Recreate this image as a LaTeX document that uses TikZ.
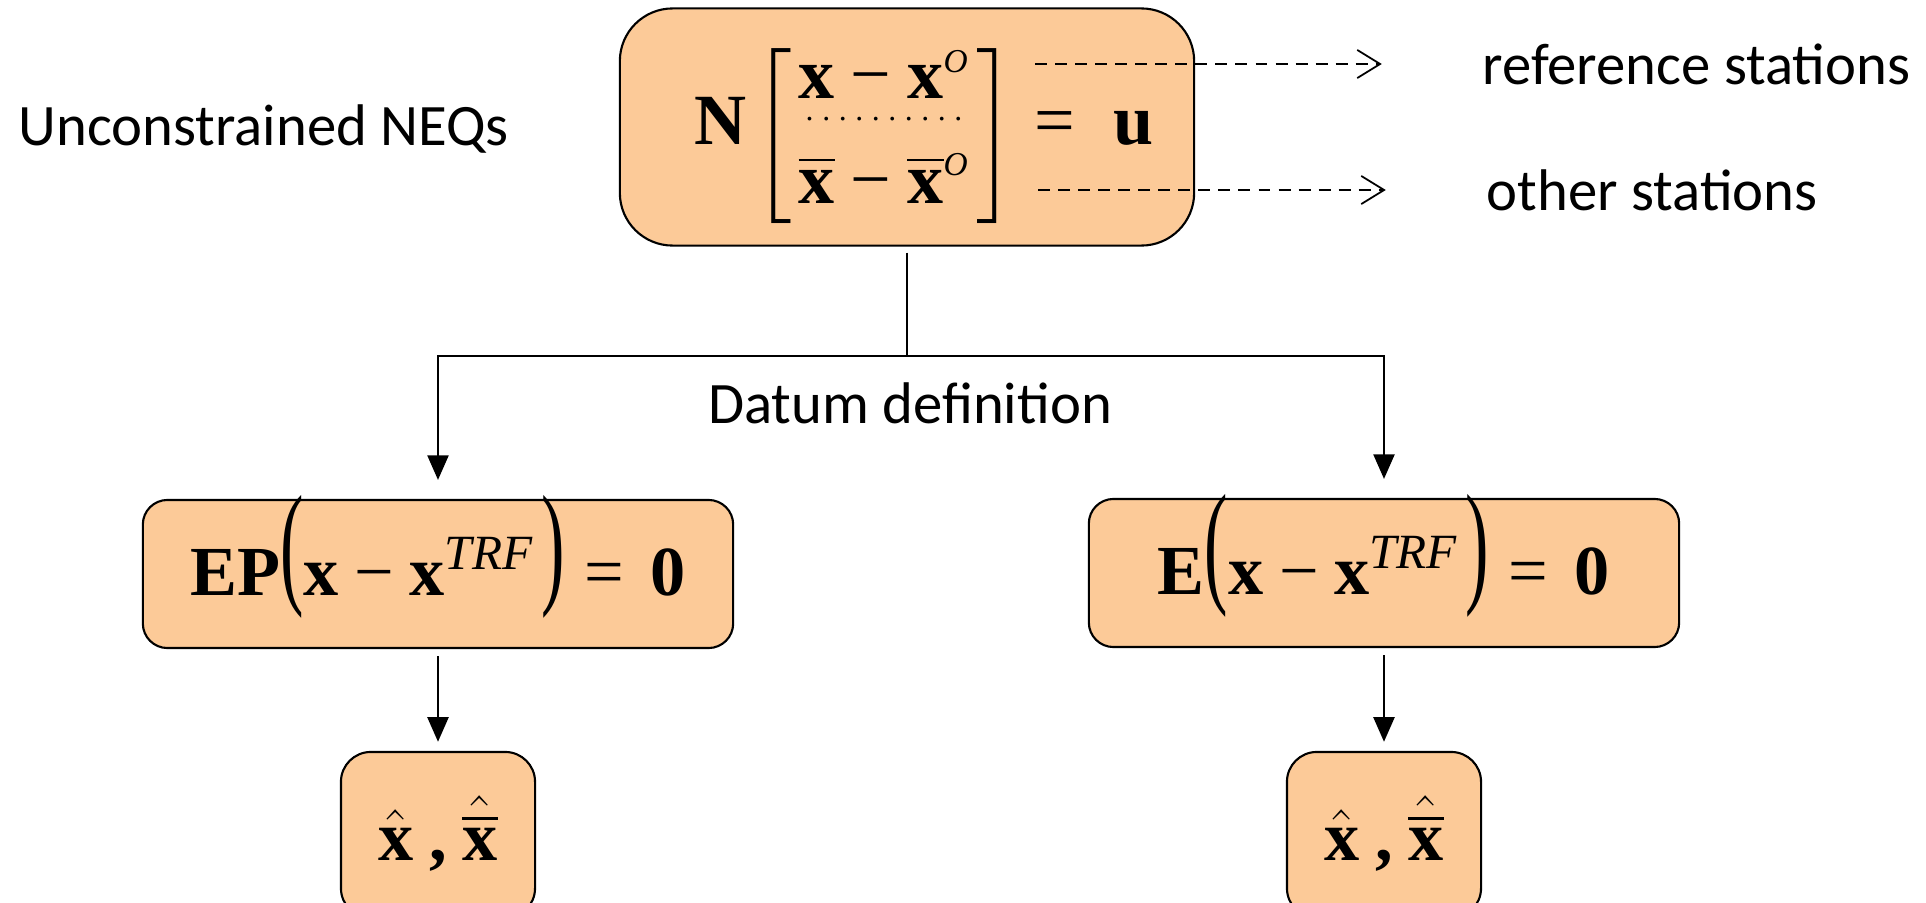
\RequirePackage{fix-cm}
\documentclass[tikz,border=0pt]{standalone}
\usepackage{amsmath}
\usepackage{graphicx}
\usepackage{fontspec}
\setmainfont{Carlito}
\newfontfamily\tnr{Liberation Serif}
\usetikzlibrary{arrows.meta}
\definecolor{peach}{RGB}{252,202,152}
\newcommand{\bv}[1]{\text{\tnr\bfseries #1}}
\newcommand{\iv}[1]{\text{\tnr\itshape #1}}
\newcommand{\mi}{\mathbin{\text{\tnr −}}}
\newcommand{\eqs}{\mathrel{\text{\tnr =}}}
\newcommand{\lpar}{\mathopen{\raisebox{1.7pt}{\scalebox{1}[1.93]{\tnr (}}}}
\newcommand{\rpar}{\mathclose{\raisebox{1.7pt}{\scalebox{1}[1.93]{\tnr )}}}}
\newcommand{\supO}{\mbox{\fontsize{9.5}{10}\selectfont\tnr\itshape O}}
\newcommand{\dotrow}{\hbox to 47pt{\leaders\hbox to 4.7pt{\hss\tnr\fontsize{9}{9}\selectfont .\hss}\hfill}}

\begin{document}
\begin{tikzpicture}[x=0.01cm,y=-0.01cm,
    box/.style={draw,fill=peach,line width=0.6pt,rounded corners=#1,inner sep=0pt},
    box/.default=7pt,
    eq/.style={font=\fontsize{20}{24}\selectfont},
    lbl/.style={font=\fontsize{16.7}{20}\selectfont,inner sep=0pt},
    link/.style={line width=0.6pt},
    tip/.style={-{Triangle[length=7pt,width=6pt]}},
    side/.style={line width=0.5pt,dash pattern=on 3.4pt off 2.3pt,-{Straight Barb[length=6.5pt,width=8pt]}}]
  \useasboundingbox (0,0) rectangle (1926,903);
  \clip (0,0) rectangle (1926,903);

  % normal equations
  \node[box=15pt,minimum width=5.74cm,minimum height=2.37cm,font=\fontsize{20.5}{24}\selectfont,
        text height=35.2pt,text depth=25pt] (neq) at (907,127)
    {\renewcommand{\arraystretch}{0}\setlength{\arraycolsep}{2pt}%
     $\hspace*{9.6pt}\bv{N}\hspace{1.9pt}\raisebox{-2.6pt}{$\left[\begin{array}{c}
      \rule[-1pt]{0pt}{15.2pt}\bv{x}\mi\bv{x}^{\supO}\\
      \rule{0pt}{5.3pt}\dotrow\\
      \rule[-5.7pt]{0pt}{29pt}\overline{\bv{x}}\mi\overline{\bv{x}}^{\supO}
    \end{array}\right]$}\eqs\hspace{5pt}\bv{u}$};
  \node[lbl,anchor=west] (unc) at (18,129) {Unconstrained NEQs};
  \node[lbl,anchor=west] (refst) at (1482,64) {reference stations};
  \node[lbl,anchor=west] (othst) at (1486,190) {other stations};
  \coordinate (ra) at (1035,64);
  \coordinate (oa) at (1038,190);
  \draw[side,shorten >=28.5pt] (ra) -- (refst.west);
  \draw[side,shorten >=28.5pt] (oa) -- (othst.west);

  % datum definition
  \coordinate (fork) at (907,356);
  \node[lbl] (datum) at (910,403) {Datum definition};
  \node[box,minimum width=5.9cm,minimum height=1.48cm,eq,text height=20pt,text depth=8pt] (ep) at (438,574)
    {$\bv{EP}\lpar\bv{x}\mi\bv{x}^{\iv{TRF}}\hspace{2pt}\rpar\eqs\hspace{2pt}\bv{0}$};
  \node[box,minimum width=5.9cm,minimum height=1.48cm,eq,text height=20pt,text depth=8pt] (e) at (1384,573)
    {$\bv{E}\lpar\bv{x}\mi\bv{x}^{\iv{TRF}}\hspace{2pt}\rpar\eqs\hspace{2pt}\bv{0}$};
  \draw[link,shorten <=1.7pt] (neq.south) -- (fork);
  \draw[link,tip,shorten >=5.4pt] (fork) -| (ep.north);
  \draw[link,tip,shorten >=5.4pt] (fork) -| (e.north);

  % estimates
  \node[box=8.5pt,minimum width=1.94cm,minimum height=1.66cm,eq] (estl) at (438,835)
    {\raisebox{4pt}{$\hat{\bv{x}}\mkern4mu\bv{,}\mkern4mu\hat{\overline{\bv{x}}}$}};
  \node[box=8.5pt,minimum width=1.94cm,minimum height=1.66cm,eq] (estr) at (1384,835)
    {\raisebox{4pt}{$\hat{\bv{x}}\mkern4mu\bv{,}\mkern4mu\hat{\overline{\bv{x}}}$}};
  \draw[link,tip,shorten <=2pt,shorten >=2.6pt] (ep.south) -- (estl.north);
  \draw[link,tip,shorten <=2pt,shorten >=2.6pt] (e.south) -- (estr.north);
\end{tikzpicture}
\end{document}
